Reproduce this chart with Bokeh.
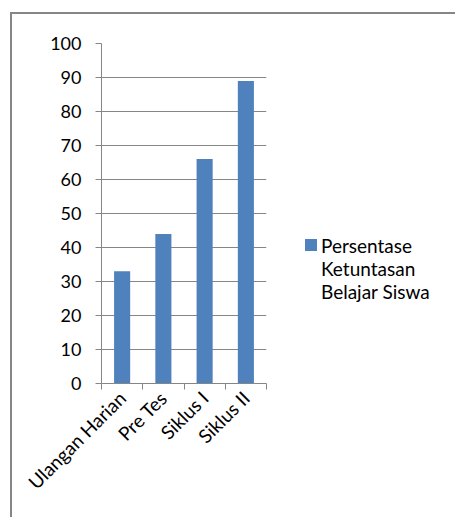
from math import pi
from bokeh.plotting import figure
from bokeh.models import Range1d, LinearAxis, FixedTicker, Div
from bokeh.layouts import row
from bokeh.embed import file_html
from bokeh.resources import INLINE

categories = ["Ulangan Harian", "Pre Tes", "Siklus I", "Siklus II"]
values = [33, 44, 66, 89]
series_name_lines = ["Persentase", "Ketuntasan", "Belajar Siswa"]
y_ticks = list(range(0, 101, 10))

GRAY = "#868686"
BAR = "#4F81BD"
FONT = "Lato"

n = len(categories)
xs = list(range(n))
bounds = [i - 0.5 for i in range(n + 1)]

p = figure(x_range=Range1d(-0.5, n - 0.5), y_range=Range1d(0, 100),
           width=259, height=505, output_backend="svg", toolbar_location=None,
           x_axis_location=None,
           min_border_left=89, min_border_top=29, min_border_right=5,
           min_border_bottom=136, margin=(12, 0, 0, 10))
p.styles = {"border-left": f"2px solid {GRAY}", "border-top": f"2px solid {GRAY}"}
p.outline_line_color = None

# y axis
p.yaxis.ticker = FixedTicker(ticks=y_ticks)
p.yaxis.minor_tick_line_color = None
p.yaxis.major_tick_in = 0
p.yaxis.major_tick_out = 6
p.yaxis.axis_line_color = GRAY
p.yaxis.major_tick_line_color = GRAY
p.yaxis.major_label_text_font = FONT
p.yaxis.major_label_text_font_size = "18px"
p.yaxis.major_label_text_color = "black"
p.yaxis.major_label_standoff = 14

p.ygrid.ticker = FixedTicker(ticks=y_ticks)
p.ygrid.grid_line_color = GRAY
p.xgrid.grid_line_color = None

# category axis: labels at centers, tick marks at boundaries (minor ticks)
cat_axis = LinearAxis(ticker=FixedTicker(ticks=xs, minor_ticks=bounds),
                      major_label_overrides={i: c for i, c in zip(xs, categories)},
                      axis_line_color=GRAY,
                      major_tick_line_color=None, major_tick_in=0, major_tick_out=6,
                      minor_tick_line_color=GRAY, minor_tick_in=0, minor_tick_out=6,
                      major_label_orientation=pi / 4,
                      major_label_text_font=FONT,
                      major_label_text_font_size="19px",
                      major_label_text_color="black",
                      major_label_standoff=5)
p.add_layout(cat_axis, "below")

p.vbar(x=xs, top=values, width=0.39, color=BAR, line_color=None)

# legend (HTML beside the plot)
legend_html = (
    f'<div style="display:flex;align-items:flex-start;padding-left:36px;'
    f'padding-top:220px;font-family:{FONT};font-size:19px;line-height:23px;color:black">'
    f'<span style="display:inline-block;width:12px;height:12px;background:{BAR};'
    f'margin-top:5px;margin-right:4px;flex:none"></span>'
    f'<span>{"<br>".join(series_name_lines)}</span></div>'
)
legend_div = Div(text=legend_html, width=186, height=505, margin=(12, 0, 0, 0),
                 styles={"border-top": f"2px solid {GRAY}"})

layout = row(p, legend_div)

open("out.html", "w").write(file_html(layout, INLINE))
